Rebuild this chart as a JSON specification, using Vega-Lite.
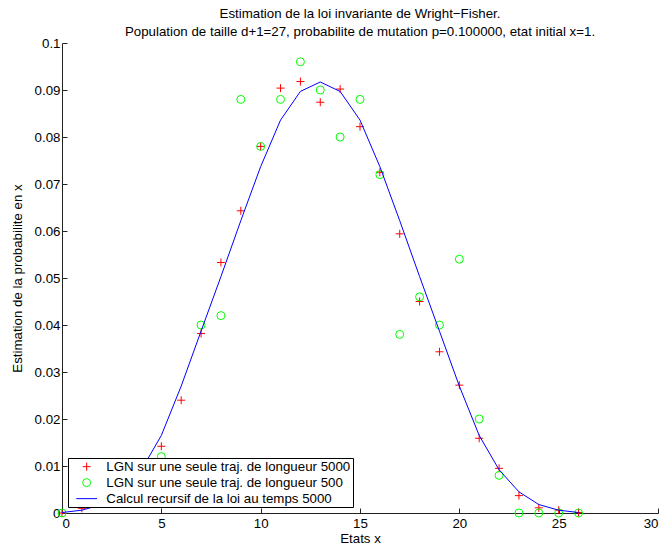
{
  "$schema": "https://vega.github.io/schema/vega-lite/v6.json",
  "width": 596,
  "height": 470,
  "autosize": {"type": "none"},
  "padding": {"left": 62, "top": 43, "right": 2, "bottom": 34},
  "background": "white",
  "title": {
    "text": ["Estimation de la loi invariante de Wright−Fisher.", "Population de taille d+1=27, probabilite de mutation p=0.100000, etat initial x=1."],
    "fontSize": 13.3, "fontWeight": "normal", "font": "Liberation Sans", "color": "black",
    "anchor": "middle", "offset": -2, "lineHeight": 17.5
  },
  "config": {
    "view": {"stroke": null},
    "font": "Liberation Sans",
    "axis": {
      "grid": false, "domainColor": "#222", "tickColor": "#222", "tickSize": -5,
      "labelFont": "Liberation Sans", "labelFontSize": 13.3, "labelColor": "black",
      "titleFont": "Liberation Sans", "titleFontSize": 13.3, "titleFontWeight": "normal", "titleColor": "black"
    },
    "legend": {
      "orient": "bottom-left", "offset": 6, "fillColor": "white", "strokeColor": "black",
      "padding": 2, "cornerRadius": 0, "labelFont": "Liberation Sans", "labelFontSize": 13.3,
      "labelColor": "black", "rowPadding": 2, "symbolStrokeWidth": 1, "symbolSize": 64,
      "symbolOffset": 10, "labelOffset": 13, "labelLimit": 400
    }
  },
  "data": {"values": [
    {"x":0,"p":0,"s":"LGN sur une seule traj. de longueur 5000"},
    {"x":1,"p":0.001,"s":"LGN sur une seule traj. de longueur 5000"},
    {"x":2,"p":0.0025,"s":"LGN sur une seule traj. de longueur 5000"},
    {"x":3,"p":0.005,"s":"LGN sur une seule traj. de longueur 5000"},
    {"x":4,"p":0.0095,"s":"LGN sur une seule traj. de longueur 5000"},
    {"x":5,"p":0.0142,"s":"LGN sur une seule traj. de longueur 5000"},
    {"x":6,"p":0.024,"s":"LGN sur une seule traj. de longueur 5000"},
    {"x":7,"p":0.0382,"s":"LGN sur une seule traj. de longueur 5000"},
    {"x":8,"p":0.0533,"s":"LGN sur une seule traj. de longueur 5000"},
    {"x":9,"p":0.0643,"s":"LGN sur une seule traj. de longueur 5000"},
    {"x":10,"p":0.078,"s":"LGN sur une seule traj. de longueur 5000"},
    {"x":11,"p":0.0904,"s":"LGN sur une seule traj. de longueur 5000"},
    {"x":12,"p":0.0918,"s":"LGN sur une seule traj. de longueur 5000"},
    {"x":13,"p":0.0874,"s":"LGN sur une seule traj. de longueur 5000"},
    {"x":14,"p":0.0902,"s":"LGN sur une seule traj. de longueur 5000"},
    {"x":15,"p":0.0822,"s":"LGN sur une seule traj. de longueur 5000"},
    {"x":16,"p":0.0725,"s":"LGN sur une seule traj. de longueur 5000"},
    {"x":17,"p":0.0594,"s":"LGN sur une seule traj. de longueur 5000"},
    {"x":18,"p":0.045,"s":"LGN sur une seule traj. de longueur 5000"},
    {"x":19,"p":0.0343,"s":"LGN sur une seule traj. de longueur 5000"},
    {"x":20,"p":0.0272,"s":"LGN sur une seule traj. de longueur 5000"},
    {"x":21,"p":0.0159,"s":"LGN sur une seule traj. de longueur 5000"},
    {"x":22,"p":0.0095,"s":"LGN sur une seule traj. de longueur 5000"},
    {"x":23,"p":0.0037,"s":"LGN sur une seule traj. de longueur 5000"},
    {"x":24,"p":0.0011,"s":"LGN sur une seule traj. de longueur 5000"},
    {"x":25,"p":0.0006,"s":"LGN sur une seule traj. de longueur 5000"},
    {"x":26,"p":0.0001,"s":"LGN sur une seule traj. de longueur 5000"},
    {"x":0,"p":0,"s":"LGN sur une seule traj. de longueur 500"},
    {"x":1,"p":0.004,"s":"LGN sur une seule traj. de longueur 500"},
    {"x":2,"p":0.002,"s":"LGN sur une seule traj. de longueur 500"},
    {"x":3,"p":0.002,"s":"LGN sur une seule traj. de longueur 500"},
    {"x":4,"p":0.008,"s":"LGN sur une seule traj. de longueur 500"},
    {"x":5,"p":0.012,"s":"LGN sur une seule traj. de longueur 500"},
    {"x":6,"p":0.010,"s":"LGN sur une seule traj. de longueur 500"},
    {"x":7,"p":0.040,"s":"LGN sur une seule traj. de longueur 500"},
    {"x":8,"p":0.042,"s":"LGN sur une seule traj. de longueur 500"},
    {"x":9,"p":0.088,"s":"LGN sur une seule traj. de longueur 500"},
    {"x":10,"p":0.078,"s":"LGN sur une seule traj. de longueur 500"},
    {"x":11,"p":0.088,"s":"LGN sur une seule traj. de longueur 500"},
    {"x":12,"p":0.096,"s":"LGN sur une seule traj. de longueur 500"},
    {"x":13,"p":0.090,"s":"LGN sur une seule traj. de longueur 500"},
    {"x":14,"p":0.080,"s":"LGN sur une seule traj. de longueur 500"},
    {"x":15,"p":0.088,"s":"LGN sur une seule traj. de longueur 500"},
    {"x":16,"p":0.072,"s":"LGN sur une seule traj. de longueur 500"},
    {"x":17,"p":0.038,"s":"LGN sur une seule traj. de longueur 500"},
    {"x":18,"p":0.046,"s":"LGN sur une seule traj. de longueur 500"},
    {"x":19,"p":0.040,"s":"LGN sur une seule traj. de longueur 500"},
    {"x":20,"p":0.054,"s":"LGN sur une seule traj. de longueur 500"},
    {"x":21,"p":0.020,"s":"LGN sur une seule traj. de longueur 500"},
    {"x":22,"p":0.008,"s":"LGN sur une seule traj. de longueur 500"},
    {"x":23,"p":0,"s":"LGN sur une seule traj. de longueur 500"},
    {"x":24,"p":0,"s":"LGN sur une seule traj. de longueur 500"},
    {"x":25,"p":0,"s":"LGN sur une seule traj. de longueur 500"},
    {"x":26,"p":0,"s":"LGN sur une seule traj. de longueur 500"},
    {"x":0,"p":0.0001,"s":"Calcul recursif de la loi au temps 5000"},
    {"x":1,"p":0.0006,"s":"Calcul recursif de la loi au temps 5000"},
    {"x":2,"p":0.0018,"s":"Calcul recursif de la loi au temps 5000"},
    {"x":3,"p":0.0045,"s":"Calcul recursif de la loi au temps 5000"},
    {"x":4,"p":0.0092,"s":"Calcul recursif de la loi au temps 5000"},
    {"x":5,"p":0.0165,"s":"Calcul recursif de la loi au temps 5000"},
    {"x":6,"p":0.027,"s":"Calcul recursif de la loi au temps 5000"},
    {"x":7,"p":0.0387,"s":"Calcul recursif de la loi au temps 5000"},
    {"x":8,"p":0.0503,"s":"Calcul recursif de la loi au temps 5000"},
    {"x":9,"p":0.0622,"s":"Calcul recursif de la loi au temps 5000"},
    {"x":10,"p":0.0737,"s":"Calcul recursif de la loi au temps 5000"},
    {"x":11,"p":0.0836,"s":"Calcul recursif de la loi au temps 5000"},
    {"x":12,"p":0.0897,"s":"Calcul recursif de la loi au temps 5000"},
    {"x":13,"p":0.0917,"s":"Calcul recursif de la loi au temps 5000"},
    {"x":14,"p":0.0897,"s":"Calcul recursif de la loi au temps 5000"},
    {"x":15,"p":0.0836,"s":"Calcul recursif de la loi au temps 5000"},
    {"x":16,"p":0.0737,"s":"Calcul recursif de la loi au temps 5000"},
    {"x":17,"p":0.0622,"s":"Calcul recursif de la loi au temps 5000"},
    {"x":18,"p":0.0503,"s":"Calcul recursif de la loi au temps 5000"},
    {"x":19,"p":0.0387,"s":"Calcul recursif de la loi au temps 5000"},
    {"x":20,"p":0.027,"s":"Calcul recursif de la loi au temps 5000"},
    {"x":21,"p":0.0165,"s":"Calcul recursif de la loi au temps 5000"},
    {"x":22,"p":0.0092,"s":"Calcul recursif de la loi au temps 5000"},
    {"x":23,"p":0.0045,"s":"Calcul recursif de la loi au temps 5000"},
    {"x":24,"p":0.0018,"s":"Calcul recursif de la loi au temps 5000"},
    {"x":25,"p":0.0006,"s":"Calcul recursif de la loi au temps 5000"},
    {"x":26,"p":0.0001,"s":"Calcul recursif de la loi au temps 5000"}
  ]},
  "encoding": {
    "x": {"field": "x", "type": "quantitative", "scale": {"domain": [0, 30], "nice": false, "zero": false},
      "axis": {"values": [0,5,10,15,20,25,30], "title": "Etats x", "labelPadding": 8, "titlePadding": 2}},
    "y": {"field": "p", "type": "quantitative", "scale": {"domain": [0, 0.1], "nice": false},
      "axis": {"values": [0,0.01,0.02,0.03,0.04,0.05,0.06,0.07,0.08,0.09,0.1], "format": ".2~f", "title": "Estimation de la probabilite en x", "labelPadding": 7, "titlePadding": 10}},
    "color": {"field": "s", "type": "nominal", "sort": null,
      "scale": {"domain": ["LGN sur une seule traj. de longueur 5000", "LGN sur une seule traj. de longueur 500", "Calcul recursif de la loi au temps 5000"], "range": ["#ff0000", "#00ff00", "#0000ff"]},
      "legend": {"title": null}}
  },
  "layer": [
    {
      "transform": [{"filter": "datum.s !== 'Calcul recursif de la loi au temps 5000'"}],
      "mark": {"type": "point", "filled": false, "strokeWidth": 1, "size": 64, "opacity": 1},
      "encoding": {
        "shape": {"field": "s", "type": "nominal", "sort": null,
          "scale": {"domain": ["LGN sur une seule traj. de longueur 5000", "LGN sur une seule traj. de longueur 500", "Calcul recursif de la loi au temps 5000"], "range": ["M-1,0H1M0,-1V1", "circle", "M-2.6,0H2.6"]},
          "legend": {"title": null}}
      }
    },
    {
      "transform": [{"filter": "datum.s === 'Calcul recursif de la loi au temps 5000'"}],
      "mark": {"type": "line", "strokeWidth": 1},
      "encoding": {}
    }
  ]
}
